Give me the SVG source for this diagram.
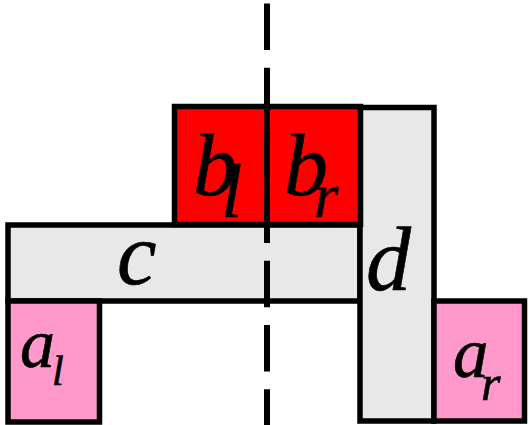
<svg xmlns="http://www.w3.org/2000/svg" width="529" height="425" viewBox="0 0 529 425">
<style>
.box{stroke:#000;stroke-width:5.5;stroke-linejoin:miter}
.grey{fill:#E8E8E8}
.red{fill:#FF0000}
.pink{fill:#FF99CC}
.lbl{font-family:"Liberation Serif","Times New Roman",serif;font-style:italic;fill:#000;stroke:#000;stroke-width:0.6}
</style>
<rect width="529" height="425" fill="#fff"/>
<g id="c"><rect class="box grey" x="8" y="225" width="352" height="76"/><text class="lbl" x="117" y="284" font-size="89">c</text></g>
<g id="d"><rect class="box grey" x="360" y="107.5" width="74" height="313.5"/><text class="lbl" x="366" y="290" font-size="90">d</text></g>
<g id="b"><rect class="box red" x="174.5" y="106.5" width="186" height="118"/><line x1="267" y1="106.5" x2="267" y2="224.5" stroke="#000" stroke-width="5.5"/>
<text class="lbl" x="193" y="195" font-size="88">b</text><text class="lbl" x="221" y="217" font-size="76">l</text>
<text class="lbl" x="284" y="195" font-size="88">b</text><text class="lbl" x="314" y="217" font-size="63">r</text></g>
<g id="al"><rect class="box pink" x="8" y="301" width="91.5" height="121"/><text class="lbl" x="20" y="367" font-size="70">a</text><text class="lbl" x="52" y="385" font-size="42">l</text></g>
<g id="ar"><rect class="box pink" x="434" y="301" width="90.5" height="120"/><text class="lbl" x="453" y="377" font-size="71">a</text><text class="lbl" x="481" y="400" font-size="50">r</text></g>
<g id="connectors"><line x1="267" y1="3.5" x2="267" y2="425" stroke="#000" stroke-width="6" stroke-dasharray="46.5 17.8"/></g>
</svg>
